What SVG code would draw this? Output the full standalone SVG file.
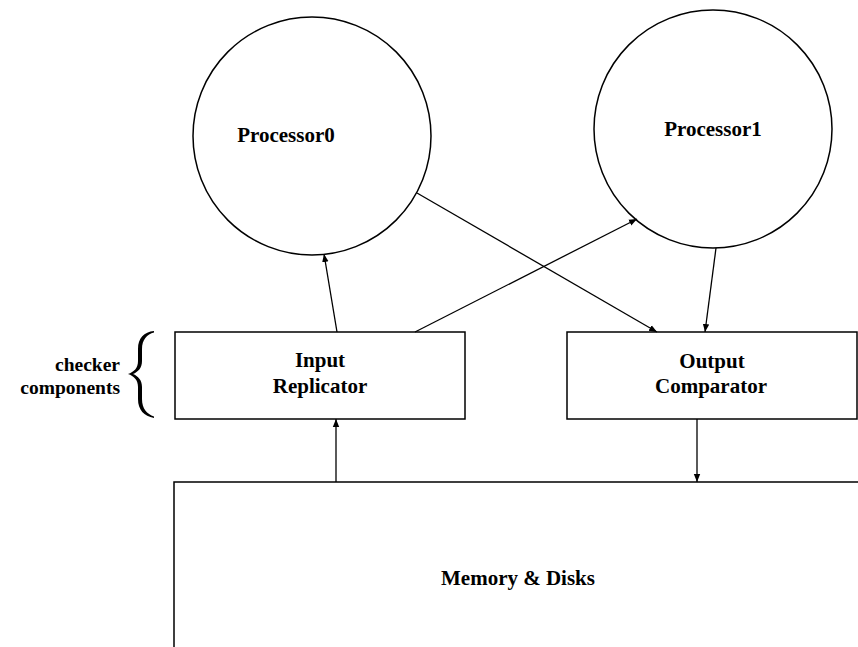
<svg xmlns="http://www.w3.org/2000/svg" width="858" height="647" viewBox="0 0 858 647">
  <style>
    .shape { fill: #ffffff; stroke: #000000; stroke-width: 1.5; }
    .label { font-family: "Liberation Serif", "Times New Roman", serif; font-weight: bold; font-size: 21px; fill: #000000; text-anchor: middle; }
    .side { text-anchor: end; font-size: 19.5px; }
    .edge { fill: none; stroke: #000000; stroke-width: 1.3; marker-end: url(#arrow); }
  </style>
  <defs>
    <marker id="arrow" viewBox="0 0 10 10" refX="10" refY="5" markerWidth="8" markerHeight="8" markerUnits="userSpaceOnUse" orient="auto">
      <path d="M0,1 L10,5 L0,9 Z" fill="#000000"/>
    </marker>
  </defs>
  <rect width="858" height="647" fill="#ffffff"/>

  <!-- storage block running off the right and bottom edges -->
  <g id="memory">
    <rect class="shape" x="174" y="482" width="720" height="200"/>
    <text class="label" x="518" y="585">Memory &amp; Disks</text>
  </g>

  <g id="processor0">
    <circle class="shape" cx="312" cy="136" r="119"/>
    <text class="label" x="286" y="142">Processor0</text>
  </g>

  <g id="processor1">
    <circle class="shape" cx="713" cy="129" r="119"/>
    <text class="label" x="713" y="136">Processor1</text>
  </g>

  <g id="input-replicator">
    <rect class="shape" x="175" y="332" width="290" height="87"/>
    <text class="label" x="320" y="367">Input</text>
    <text class="label" x="320" y="393">Replicator</text>
  </g>

  <g id="output-comparator">
    <rect class="shape" x="567" y="332" width="290" height="87"/>
    <text class="label" x="712" y="368">Output</text>
    <text class="label" x="711" y="393">Comparator</text>
  </g>

  <g id="checker-label">
    <!-- curly brace drawn as a filled shape: thick in the arms, thin at the ends -->
    <path d="M154,331 C144,332 138,338 138,349 L138,361 C138,368 134,372 128,374 C134,376 138,380 138,387 L138,399 C138,410 144,416 154,418 L154,416.5 C147,414 142,409 142,399 L142,387 C142,380 138,376 133,374 C138,372 142,368 142,361 L142,349 C142,340 147,334 154,332.5 Z" fill="#000000"/>
    <text class="label side" x="120" y="371">checker</text>
    <text class="label side" x="120" y="394">components</text>
  </g>

  <g id="connectors">
    <line class="edge" x1="337" y1="332" x2="324" y2="254"/>
    <line class="edge" x1="415" y1="332" x2="637" y2="219"/>
    <line class="edge" x1="417" y1="193" x2="657" y2="332"/>
    <line class="edge" x1="716" y1="248" x2="705" y2="332"/>
    <line class="edge" x1="336" y1="482" x2="336" y2="419"/>
    <line class="edge" x1="697" y1="419" x2="697" y2="482"/>
  </g>
</svg>
